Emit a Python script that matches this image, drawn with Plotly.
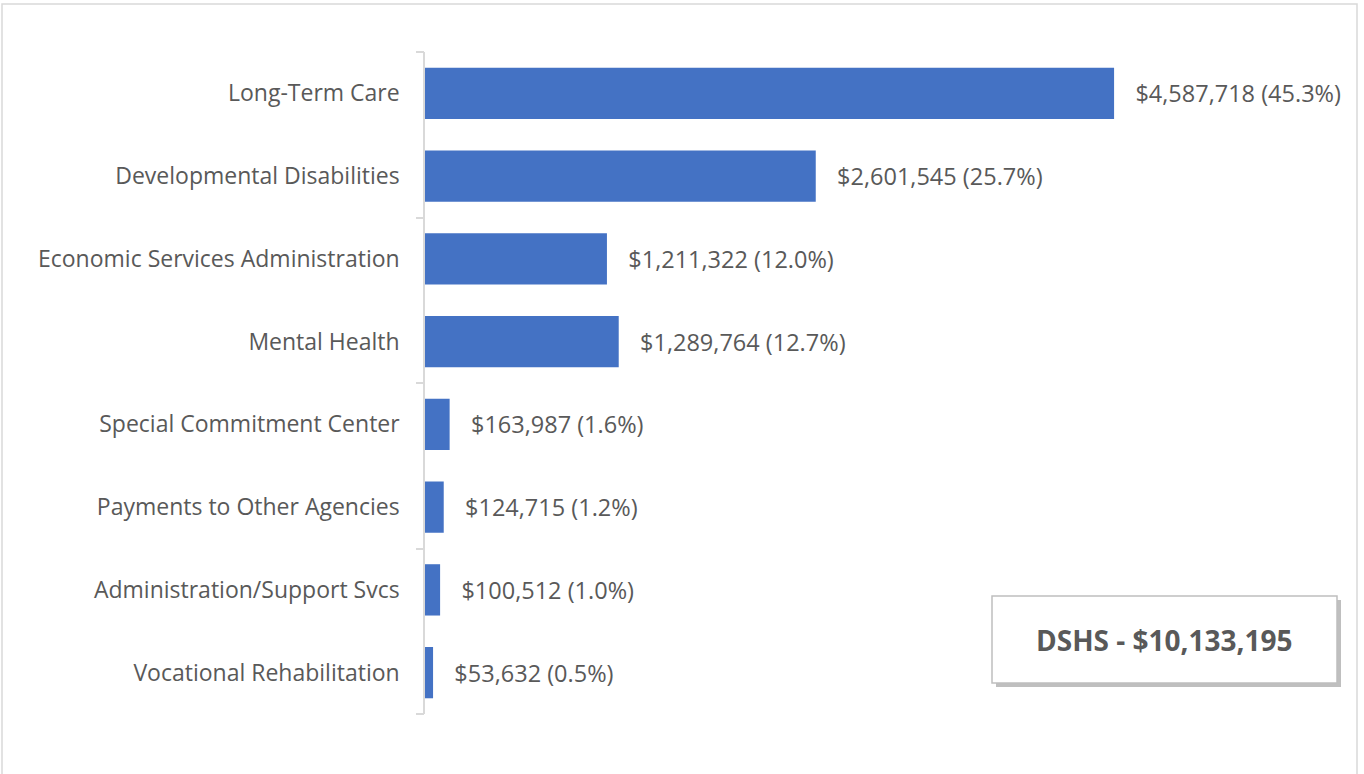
import plotly.graph_objects as go

# data, top to bottom as in the chart
programs = [
    "Long-Term Care",
    "Developmental Disabilities",
    "Economic Services Administration",
    "Mental Health",
    "Special Commitment Center",
    "Payments to Other Agencies",
    "Administration/Support Svcs",
    "Vocational Rehabilitation",
]
spend = [4587718, 2601545, 1211322, 1289764, 163987, 124715, 100512, 53632]
share = [45.3, 25.7, 12.0, 12.7, 1.6, 1.2, 1.0, 0.5]
total_label = "DSHS - $10,133,195"

FONT = "Open Sans"
GREY = "#595959"
W, H = 1364, 774
L, R, T, B = 425, 188, 52, 60
pw, ph = W - L - R, H - T - B


def px_x(p):
    return (p - L) / pw


def px_y(p):
    return (H - B - p) / ph


labels = [f"   ${v:,.0f} ({s:.1f}%)" for v, s in zip(spend, share)]
pos = list(range(len(programs)))

fig = go.Figure()
fig.add_bar(
    x=spend,
    y=pos,
    orientation="h",
    marker=dict(color="#4472C4", line=dict(width=0)),
    width=0.62,
    text=labels,
    textposition="outside",
    constraintext="none",
    cliponaxis=False,
    textfont=dict(family=FONT, size=23.5, color=GREY),
    hovertemplate="%{customdata}<br>$%{x:,.0f}<extra></extra>",
    customdata=programs,
)

# invisible trace on second y axis so the boundary ticks show
fig.add_scatter(x=[0], y=[0], yaxis="y2", mode="markers",
                marker=dict(opacity=0), hoverinfo="skip", showlegend=False)

fig.update_layout(
    width=W,
    height=H,
    margin=dict(l=L, r=R, t=T, b=B, pad=0),
    paper_bgcolor="white",
    plot_bgcolor="white",
    showlegend=False,
    font=dict(family=FONT, size=23, color=GREY),
    xaxis=dict(range=[0, 5000000], visible=False, fixedrange=True),
    yaxis=dict(
        range=[7.5, -0.5],
        tickvals=pos,
        ticktext=programs,
        ticks="",
        showgrid=False,
        zeroline=False,
        showline=True,
        linecolor="#d9d9d9",
        linewidth=1.5,
        ticklabelstandoff=19,
        tickfont=dict(family=FONT, size=23, color=GREY),
    ),
    yaxis2=dict(
        overlaying="y",
        range=[7.5, -0.5],
        tickvals=[-0.5, 1.5, 3.5, 5.5, 7.5],
        showticklabels=False,
        ticks="outside",
        ticklen=8,
        tickwidth=1.5,
        tickcolor="#d9d9d9",
        showgrid=False,
        zeroline=False,
        side="left",
    ),
)

# outer chart border (bottom runs off the picture)
fig.add_shape(type="rect", xref="paper", yref="paper",
              x0=px_x(2), x1=px_x(1357), y0=px_y(790), y1=px_y(4),
              line=dict(color="#d9d9d9", width=1.5), fillcolor="rgba(0,0,0,0)",
              layer="below")

# total box with drop shadow
bx0, bx1, by0, by1 = 992, 1337, 596, 683
fig.add_shape(type="rect", xref="paper", yref="paper",
              x0=px_x(bx0 + 4), x1=px_x(bx1 + 4), y0=px_y(by1 + 4), y1=px_y(by0 + 4),
              line=dict(width=0), fillcolor="rgba(0,0,0,0.25)")
fig.add_shape(type="rect", xref="paper", yref="paper",
              x0=px_x(bx0), x1=px_x(bx1), y0=px_y(by1), y1=px_y(by0),
              line=dict(color="#bfbfbf", width=1.5), fillcolor="white")
fig.add_annotation(
    x=px_x((bx0 + bx1) / 2), y=px_y((by0 + by1) / 2),
    xref="paper", yref="paper", showarrow=False,
    xanchor="center", yanchor="middle",
    text="<b>" + total_label + "</b>",
    font=dict(family=FONT, size=28, color=GREY),
)

# page body margin would push the chart 8px in
fig.write_html("out.html", config={"displayModeBar": False},
               post_script="document.body.style.margin='0';")
